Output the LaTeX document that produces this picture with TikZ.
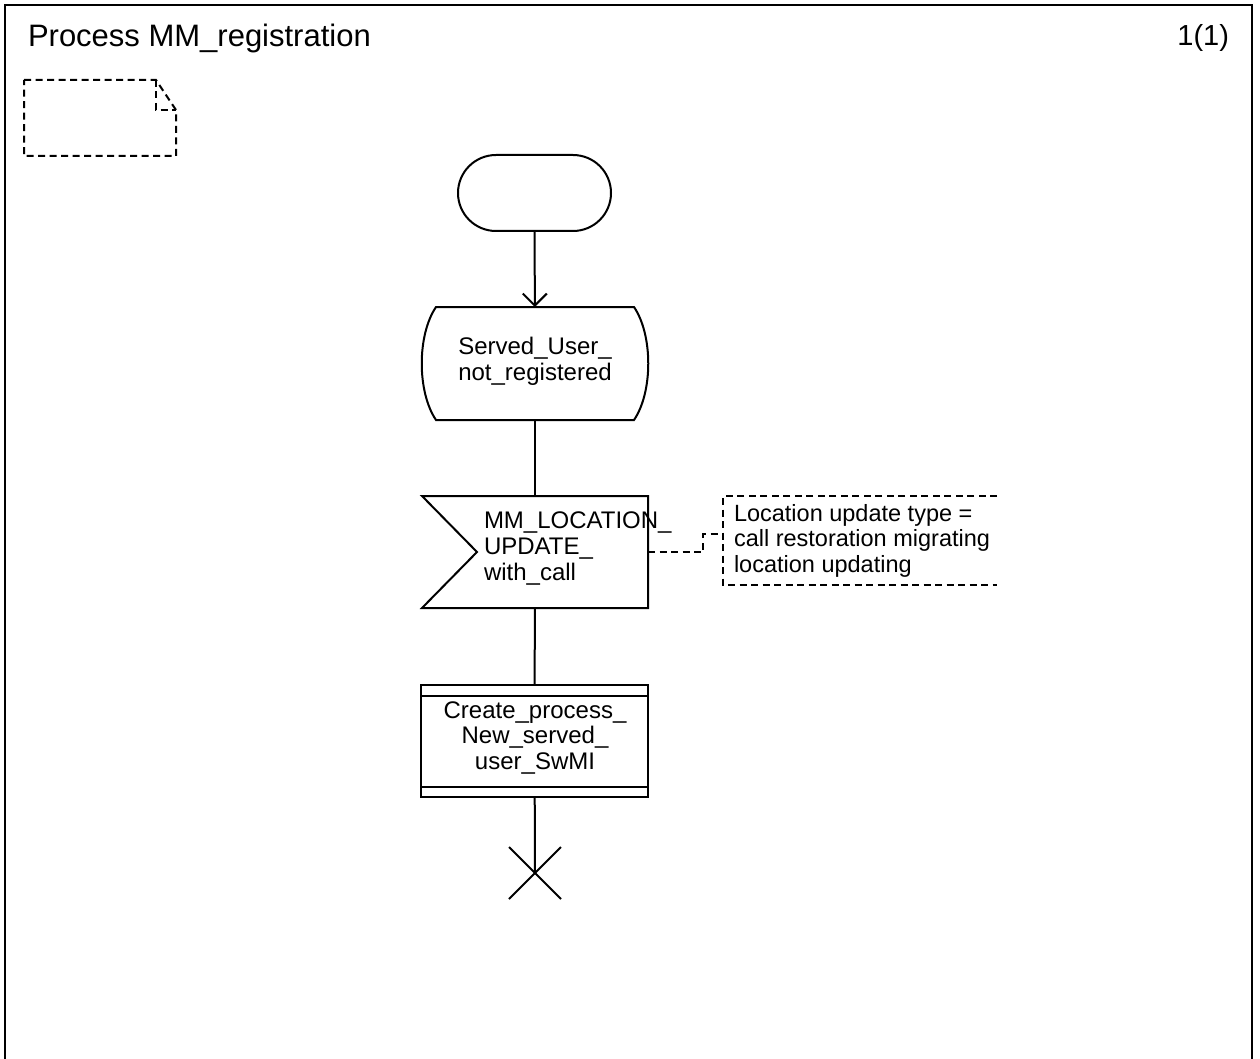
\documentclass[tikz,border=0pt]{standalone}
\usepackage{fontspec}
\setmainfont{Liberation Sans}
\usetikzlibrary{shapes.misc,arrows.meta,calc}
\begin{document}
\begin{tikzpicture}[x=1pt,y=-1pt,line width=2pt,
  lbl/.style={font=\fontsize{24}{25.8}\selectfont,inner sep=0pt,align=center,anchor=base},
  dsh/.style={dash pattern=on 7pt off 4.5pt,line width=2pt},
  plain/.style={inner sep=0pt,outer sep=0pt},
  headtxt/.style={font=\fontsize{31}{34}\selectfont,inner sep=0pt}]
\useasboundingbox (0,0) rectangle (1260,1059);
\fill[white] (0,0) rectangle (1260,1059);
% frame
\draw[line width=2.2pt] (5,1080) -- (5,5) -- (1252,5) -- (1252,1080);
\node[headtxt,anchor=base west] (title) at (27,47) {Process MM\_registration};
\node[headtxt,font=\fontsize{29}{34}\selectfont,anchor=base east] (page) at (1230,46) {1(1)};
% note icon
\draw[dsh] (24,80) -- (156,80) -- (176,110) -- (176,156) -- (24,156) -- cycle;
\draw[dsh] (156,80) -- (156,110) -- (176,110);
% start
\node[draw,rounded rectangle,plain,minimum width=153pt,minimum height=76pt] (start) at (534.5,193) {};
% state
\node[plain,minimum width=198pt,minimum height=113pt] (state) at (535,363.5) {};
\draw (state.north west) -- (state.north east)
  .. controls +(19,28) and +(19,-28) .. (state.south east)
  -- (state.south west)
  .. controls +(-19,-28) and +(-19,28) .. (state.north west) -- cycle;
\node[lbl] (statetxt) at (535,380) {Served\_User\_\\not\_registered};
% input signal
\node[plain,minimum width=226pt,minimum height=112pt] (sig) at (535,552) {};
\coordinate (notch) at (477,552);
\draw (sig.north west) -- (sig.north east) -- (sig.south east) -- (sig.south west) -- (notch) -- cycle;
\node[lbl,align=left,anchor=base west] (sigtxt) at (483,580) {MM\_LOCATION\_\\UPDATE\_\\with\_call};
% comment
\coordinate (ctl) at (723,496);
\coordinate (cbl) at (723,585);
\coordinate (ctr) at (997,496);
\coordinate (cbr) at (997,585);
\coordinate (cj1) at (703,552);
\coordinate (cj2) at (703,534);
\coordinate (cj3) at (723,534);
\draw[dsh] (ctr) -- (ctl) -- (cbl) -- (cbr);
\draw[dsh] (sig.east) -- (cj1) -- (cj2) -- (cj3);
\node[font=\fontsize{23.5}{25.2}\selectfont,inner sep=0pt,align=left,anchor=base west] (cmt) at (733,572)
  {Location update type =\\call restoration migrating\\location updating};
% create
\node[draw,plain,minimum width=227pt,minimum height=112pt] (create) at (534.5,741) {};
\draw ($(create.north west)+(0,11)$) -- ($(create.north east)+(0,11)$);
\draw ($(create.south west)+(0,-10)$) -- ($(create.south east)+(0,-10)$);
\node[lbl,font=\fontsize{24}{25.5}\selectfont] (createtxt) at (535,769) {Create\_process\_\\New\_served\_\\user\_SwMI};
% stop
\coordinate (stop) at (535,873);
\draw ($(stop)+(-26,-26)$) -- ($(stop)+(26,26)$);
\draw ($(stop)+(-26,26)$) -- ($(stop)+(26,-26)$);
% connectors
\draw[-{Straight Barb[length=12pt,width=24pt]}] (start) -- (state);
\draw (state) -- (sig);
\draw (sig) -- (create);
\draw (create) -- (stop);
\end{tikzpicture}
\end{document}
